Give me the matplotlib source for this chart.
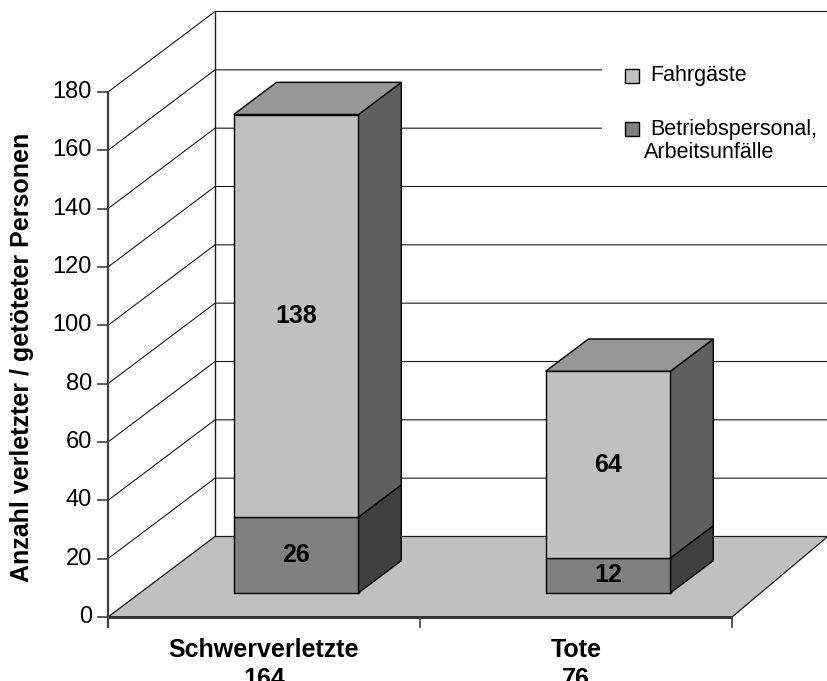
import matplotlib
matplotlib.use("Agg")
import matplotlib.pyplot as plt
from matplotlib.patches import Polygon, Rectangle

plt.rcParams["font.family"] = ["Liberation Sans", "DejaVu Sans"]

# ---- data -------------------------------------------------------------
categories = ["Schwerverletzte", "Tote"]
betriebspersonal = [26, 12]          # lower stack segment
fahrgaeste = [138, 64]               # upper stack segment
series_names = ["Fahrgäste", "Betriebspersonal,\nArbeitsunfälle"]
y_ticks = [0, 20, 40, 60, 80, 100, 120, 140, 160, 180]
y_label = "Anzahl verletzter / getöteter Personen"

# ---- colours ----------------------------------------------------------
FAHR_FRONT, FAHR_SIDE, FAHR_TOP = "#c0c0c0", "#606060", "#969696"
BETR_FRONT, BETR_SIDE = "#808080", "#404040"
FLOOR = "#c0c0c0"
AXIS = "#404040"

# ---- canvas: one axes spanning the figure, data units = categories/values
W, H = 828, 681
X0_PX, CAT_PX = 108, 312           # left axis position, width of one category
Y0_PX, UNIT_PX = 617, 525 / 180    # baseline (from top) and pixels per unit

fig = plt.figure(figsize=(W / 100, H / 100), dpi=100)
ax = fig.add_axes([0, 0, 1, 1])
ax.set_xlim(-X0_PX / CAT_PX, (W - X0_PX) / CAT_PX)
ax.set_ylim(-(H - Y0_PX) / UNIT_PX, Y0_PX / UNIT_PX)
ax.axis("off")


def fig_px(x, y_top):
    """pixel position (from the top-left corner) -> figure fraction"""
    return x / W, 1 - y_top / H


# oblique depth offsets (category units / value units)
DXL, DXR, DY = 0.343, 0.307, 27.6
YMAX = y_ticks[-1]
N = len(categories)

# walls
ax.add_patch(Polygon([(DXL, DY), (N + DXR, DY), (N + DXR, YMAX + DY), (DXL, YMAX + DY)],
                     closed=True, fc="white", ec="none", zorder=1))
ax.add_patch(Polygon([(0, 0), (DXL, DY), (DXL, YMAX + DY), (0, YMAX)],
                     closed=True, fc="white", ec="none", zorder=1))

# gridlines on the left and back walls
for v in y_ticks[1:]:
    ax.plot([0, DXL, N + DXR], [v, v + DY, v + DY], color="#1a1a1a", lw=0.8,
            zorder=2, solid_capstyle="butt")
ax.plot([DXL, DXL], [DY, YMAX + DY], color="#1a1a1a", lw=1.0, zorder=2)

# floor
ax.add_patch(Polygon([(0, 0), (N, 0), (N + DXR, DY), (DXL, DY)], closed=True,
                     fc=FLOOR, ec="#1a1a1a", lw=0.9, zorder=3))
ax.plot([0, N], [0, 0], color="#303030", lw=2.0, zorder=4, solid_capstyle="butt")

# value axis with ticks and labels
tick_len = 10 / UNIT_PX
ax.plot([0, 0], [-tick_len, YMAX], color=AXIS, lw=1.6, zorder=4)
for v in y_ticks:
    ax.plot([-10 / CAT_PX, 0], [v, v], color=AXIS, lw=1.2, zorder=4)
    ax.text(-16 / CAT_PX, v, str(v), ha="right", va="center", fontsize=17,
            color="black", zorder=5)
for i in range(N + 1):
    ax.plot([i, i], [0, -tick_len], color=AXIS, lw=1.2, zorder=4)

# stacked 3D bars
BW = 0.40           # bar width in category units
D0, D1 = 0.30, 0.70  # front / back depth of bars as fraction of floor depth


def draw_segment(c, bottom, top, front, side, top_col=None, label=None):
    xl = c - BW / 2 + D0 * DXL
    xr = xl + BW
    ddx, ddy = (D1 - D0) * DXL, (D1 - D0) * DY
    yb, yt = bottom + D0 * DY, top + D0 * DY
    ax.add_patch(Rectangle((xl, yb), BW, top - bottom, fc=front, ec="black",
                           lw=1.0, zorder=6))
    ax.add_patch(Polygon([(xr, yb), (xr + ddx, yb + ddy), (xr + ddx, yt + ddy), (xr, yt)],
                         closed=True, fc=side, ec="black", lw=1.0, zorder=6))
    if top_col is not None:
        ax.add_patch(Polygon([(xl, yt), (xr, yt), (xr + ddx, yt + ddy), (xl + ddx, yt + ddy)],
                             closed=True, fc=top_col, ec="black", lw=1.0, zorder=6))
    if label is not None:
        ax.text(xl + BW / 2, (yb + yt) / 2, label, ha="center", va="center",
                fontsize=18, fontweight="bold", zorder=7)


for i, cat in enumerate(categories):
    c = i + 0.5
    b, f = betriebspersonal[i], fahrgaeste[i]
    draw_segment(c, 0, b, BETR_FRONT, BETR_SIDE, label=str(b))
    draw_segment(c, b, b + f, FAHR_FRONT, FAHR_SIDE, FAHR_TOP, label=str(f))
    total = b + f
    ax.text(c, (Y0_PX - 657) / UNIT_PX, cat, ha="center", va="baseline",
            fontsize=18, fontweight="bold")
    ax.text(c, (Y0_PX - 686) / UNIT_PX, str(total), ha="center", va="baseline",
            fontsize=18, fontweight="bold")

# axis title
fig.text(*fig_px(22, 357), y_label, rotation=90, ha="center", va="center",
         fontsize=18, fontweight="bold")

# legend (white panel over the back wall)
lx0, ly0 = fig_px(602, 172)
lx1, ly1 = fig_px(830, 55)
fig.patches.append(Rectangle((lx0, ly0), lx1 - lx0, ly1 - ly0, transform=fig.transFigure,
                             fc="white", ec="none", zorder=8))
legend_colors = [FAHR_FRONT, BETR_FRONT]
legend_rows = [76, 129]
for name, col, yc in zip(series_names, legend_colors, legend_rows):
    sx, sy = fig_px(625, yc + 7)
    fig.patches.append(Rectangle((sx, sy), 14 / W, 14 / H, transform=fig.transFigure,
                                 fc=col, ec="black", lw=1.0, zorder=9))
    for k, line in enumerate(name.split("\n")):
        tx = 650 if k == 0 else 644
        fig.text(*fig_px(tx, yc + 24 * k), line, ha="left", va="center",
                 fontsize=15.5, zorder=10)

fig.savefig("out.png", dpi=100)
